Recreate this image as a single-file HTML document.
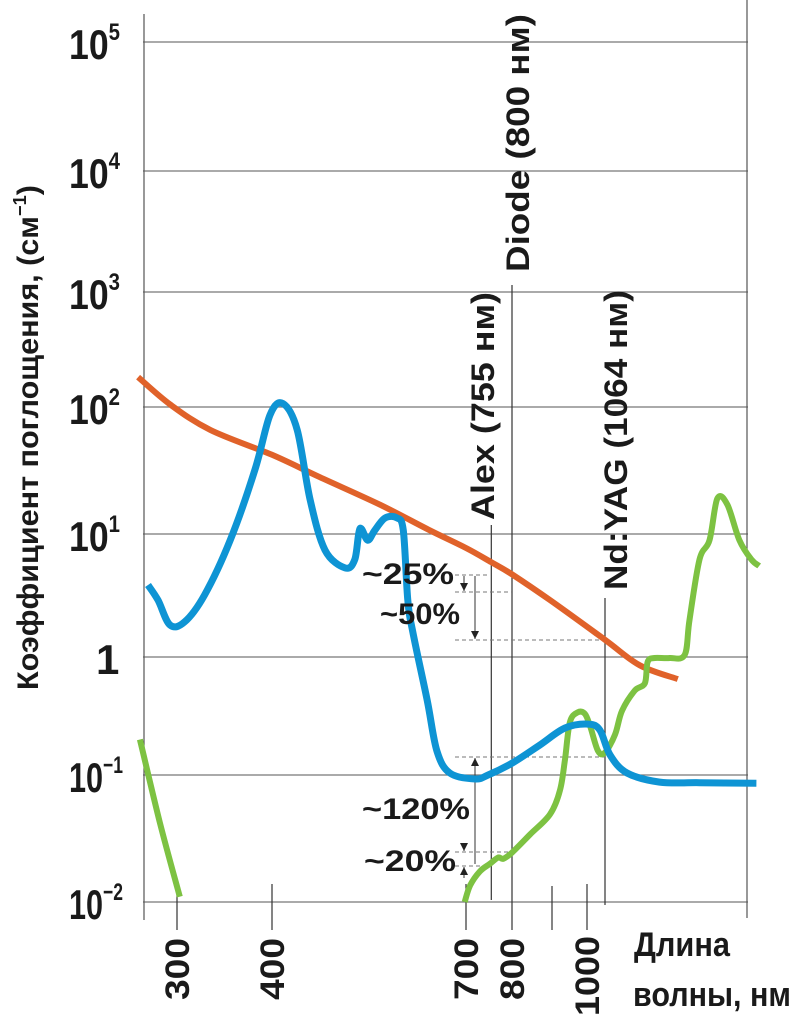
<!DOCTYPE html>
<html><head><meta charset="utf-8"><style>
html,body{margin:0;padding:0;background:#fff}
svg{display:block}
text{font-family:"Liberation Sans",sans-serif;font-weight:bold;fill:#1a1a1a}
</style></head><body>
<svg id="chart" width="792" height="1024" viewBox="0 0 792 1024" xmlns="http://www.w3.org/2000/svg">
<g id="grid"></g>
<g id="guides"></g>
<g id="series"></g>
<g id="labels"></g>
<text transform="translate(38,690) rotate(-90)" font-size="30" textLength="505" lengthAdjust="spacingAndGlyphs">Коэффициент поглощения, (см<tspan font-size="18" dy="-12">−1</tspan><tspan dy="12">)</tspan></text>
<text transform="translate(529,272) rotate(-90)" font-size="32" textLength="258" lengthAdjust="spacingAndGlyphs">Diode (800 нм)</text>
<text transform="translate(494,520) rotate(-90)" font-size="32" textLength="228" lengthAdjust="spacingAndGlyphs">Alex (755 нм)</text>
<text transform="translate(627,590) rotate(-90)" font-size="32" textLength="300" lengthAdjust="spacingAndGlyphs">Nd:YAG (1064 нм)</text>
<text x="634" y="956" font-size="34" textLength="96" lengthAdjust="spacingAndGlyphs">Длина</text>
<text x="633" y="1006" font-size="34" textLength="158" lengthAdjust="spacingAndGlyphs">волны, нм</text>
<text x="362" y="584" font-size="30" textLength="92" lengthAdjust="spacingAndGlyphs">~25%</text>
<text x="380" y="624" font-size="30" textLength="80" lengthAdjust="spacingAndGlyphs">~50%</text>
<text x="362" y="819" font-size="30" textLength="108" lengthAdjust="spacingAndGlyphs">~120%</text>
<text x="364" y="871" font-size="30" textLength="92" lengthAdjust="spacingAndGlyphs">~20%</text>
</svg>
<script>
const yTickExp=[-2,-1,0,1,2,3,4,5];
const xTickLabels=[300,400,700,800,1000];
const xMinorTicks=[900];
const orangeL=[259,293,335,400,474,567,644,700,755,800,895,1064,1189,1325];
const orangeV=[182,105,66,42,28,17,10.7,7.7,5.9,4.7,2.9,1.38,0.85,0.65];
const blueL=[269.5,280,292.6,308,329,356,382,398,417,439,459,482,513,528,536,548,559,575,593,603,610,618,640,655,675,720,748,800,870,937,1004,1046,1082,1143,1260,1403,1607];
const blueV=[3.85,2.9,1.82,1.93,3.2,8.9,32,87,107,66,18.5,7.4,5.3,6.2,11,8.9,10.7,13.4,13.4,10.7,2.9,1.57,0.43,0.16,0.104,0.093,0.1,0.126,0.18,0.25,0.27,0.24,0.148,0.104,0.088,0.087,0.086];
const greenAL=[261,282,303];
const greenAV=[0.2,0.042,0.011];
const greenBL=[698,709,730,752,770,781,800,845,895,923,937,951,974,994,1011,1039,1064,1100,1125,1171,1207,1217,1242,1296,1350,1367,1403,1439,1467,1503,1546,1589,1617];
const greenBV=[0.01,0.0135,0.0174,0.02,0.0224,0.0219,0.0245,0.034,0.049,0.076,0.135,0.28,0.34,0.33,0.26,0.16,0.155,0.22,0.35,0.52,0.6,0.91,0.98,0.98,1.04,2.0,6.2,8.9,19,17,8.9,6.2,5.5];

const calL=[250,300,400,700,800,900,1000,1064,1620];
const calX=[129.5,177,272,466,512,552,587,605,760];
const calE=[-2,-1,0,1,2,3,4,5];
const calY=[902,775,657,534,407,292,171,42];
function interp(v,a,b){
  let i=0; while(i<a.length-2 && v>a[i+1]) i++;
  return b[i]+(v-a[i])*(b[i+1]-b[i])/(a[i+1]-a[i]);
}
function xs(l){return interp(l,calL,calX);}
function ys(v){return interp(Math.log10(v),calE,calY);}
const NS="http://www.w3.org/2000/svg";
function mk(tag,attrs,parent){const e=document.createElementNS(NS,tag);for(const k in attrs)e.setAttribute(k,attrs[k]);parent.appendChild(e);return e;}
const grid=document.getElementById('grid'),guides=document.getElementById('guides'),series=document.getElementById('series'),labels=document.getElementById('labels');

yTickExp.forEach(e=>{
  const y=ys(Math.pow(10,e));
  const ln=mk('line',{x1:143,x2:748,y1:y,y2:y,stroke:'#777','stroke-width':1.2},grid);
  
  
  const t=mk('text',{'font-size':42,x:e===0?96:69,y:y+17},labels);
  
  
  if(e===0){t.textContent='1';}
  else{
    t.setAttribute('textLength',e<0?54:51);
    t.setAttribute('lengthAdjust','spacingAndGlyphs');
    t.textContent='10';
    const s=mk('tspan',{'font-size':24,dy:-19},t); s.textContent=e<0?'−'+(-e):String(e);
  }
});
let a=mk('line',{x1:144,x2:144,y1:14,y2:920,stroke:'#555','stroke-width':1.2},grid);


a=mk('line',{x1:747,x2:747,y1:0,y2:918,stroke:'#555','stroke-width':1.2},grid);


xTickLabels.forEach(l=>{
  const x=xs(l);
  const ln=mk('line',{x1:x,x2:x,y1:l===800?285:884,y2:930,stroke:'#333','stroke-width':1.2},grid);
  
  
  const t=mk('text',{'font-size':34,transform:'translate('+(x+12)+','+(l===1000?1016:1000)+') rotate(-90)',textLength:l===1000?80:62,lengthAdjust:'spacingAndGlyphs'},labels);
  
  
  t.textContent=String(l);
});
xMinorTicks.forEach(l=>{
  const x=xs(l);
  const ln=mk('line',{x1:x,x2:x,y1:886,y2:930,stroke:'#333','stroke-width':1.2},grid);
  
  
});
[[755,525,900],[1064,598,905]].forEach(g=>{
  const x=xs(g[0]);
  const ln=mk('line',{x1:x,x2:x,y1:g[1],y2:g[2],stroke:'#333','stroke-width':1.2},guides);
  
  
});
[[575,488],[592,512],[640,605],[757,605],[852,512],[866,488]].forEach(d=>{
  const ln=mk('line',{x1:455,x2:d[1],y1:d[0],y2:d[0],stroke:'#777','stroke-width':1,'stroke-dasharray':'4,3'},guides);
  
  
});
function arrow(x,y1,y2){
  const ln=mk('line',{x1:x,x2:x,y1:y1,y2:y2,stroke:'#333','stroke-width':1},guides);
  
  
  const d=y2>y1?1:-1;
  const p=mk('polygon',{points:(x-4)+','+(y2-8*d)+' '+(x+4)+','+(y2-8*d)+' '+x+','+y2,fill:'#222'},guides);
  
  
}
arrow(464,576,591);arrow(475,576,639);arrow(475,864,758);arrow(464,843,851);arrow(464,878,867);

function smooth(L,V){
  const p=L.map((l,i)=>[xs(l),ys(V[i])]);
  let d='M'+p[0][0].toFixed(1)+','+p[0][1].toFixed(1);
  for(let i=0;i<p.length-1;i++){
    const p0=p[i-1]||p[i],p1=p[i],p2=p[i+1],p3=p[i+2]||p2;
    const c1=[p1[0]+(p2[0]-p0[0])/6,p1[1]+(p2[1]-p0[1])/6];
    const c2=[p2[0]-(p3[0]-p1[0])/6,p2[1]-(p3[1]-p1[1])/6];
    d+=' C'+c1.map(v=>v.toFixed(1)).join(',')+' '+c2.map(v=>v.toFixed(1)).join(',')+' '+p2.map(v=>v.toFixed(1)).join(',');
  }
  return d;
}
let s=mk('path',{d:smooth(orangeL,orangeV),fill:'none',stroke:'#e0622a','stroke-width':6},series);


s=mk('path',{d:smooth(greenAL,greenAV),fill:'none',stroke:'#7dc242','stroke-width':6},series);


s=mk('path',{d:smooth(greenBL,greenBV),fill:'none',stroke:'#7dc242','stroke-width':6},series);


s=mk('path',{d:smooth(blueL,blueV),fill:'none',stroke:'#0e94d4','stroke-width':7},series);


</script>
</body></html>
